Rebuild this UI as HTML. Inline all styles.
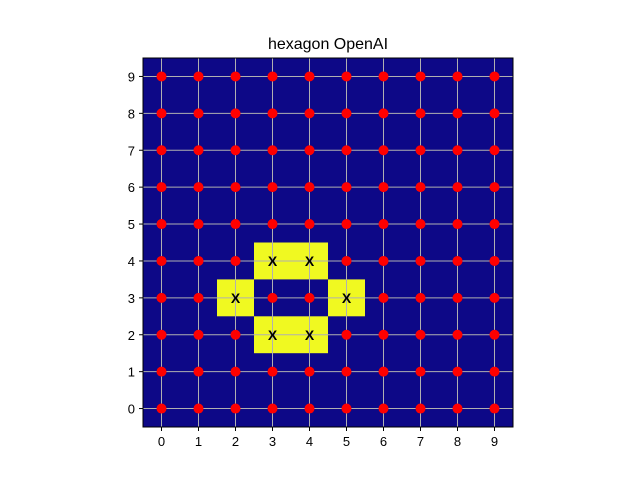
<!DOCTYPE html>
<html><head><meta charset="utf-8"><style>body{margin:0;background:#fff}svg{display:block}</style></head>
<body>
<svg id="chart" width="640" height="480" xmlns="http://www.w3.org/2000/svg" font-family="Liberation Sans, DejaVu Sans, sans-serif">
<text x="328" y="49" text-anchor="middle" font-size="16">hexagon OpenAI</text>
<g id="plot"></g>
</svg>
<script>
const nCols = 10;
const nRows = 10;
const hexX = [3, 4, 2, 5, 3, 4];
const hexY = [4, 4, 3, 3, 2, 2];
const tickLabels = ['0','1','2','3','4','5','6','7','8','9'];
const L=143,R=513,T=58,B=427;
const sx=v=>L+(v+0.5)*(R-L)/nCols;
const sy=v=>B-(v+0.5)*(B-T)/nRows;
const cw=(R-L)/nCols, ch=(B-T)/nRows;
const NS='http://www.w3.org/2000/svg';
const g=document.getElementById('plot');
function mk(t,a){const e=document.createElementNS(NS,t);for(const k in a)e.setAttribute(k,a[k]);g.appendChild(e);return e;}
let e=mk('rect',{x:L,y:T,width:R-L,height:B-T,fill:'#0d0887'});


const isHex=(x,y)=>hexX.some((hx,i)=>hx===x&&hexY[i]===y);
hexX.forEach((hx,i)=>{
 const c=mk('rect',{x:sx(hx)-cw/2,y:sy(hexY[i])-ch/2,width:cw,height:ch,fill:'#f0f921'});
 
 
});
for(let i=0;i<nCols;i++){
 const l=mk('line',{x1:sx(i),x2:sx(i),y1:T,y2:B,stroke:'#b0b0b0','stroke-width':1});
 
 
 const tk=mk('line',{x1:sx(i),x2:sx(i),y1:B,y2:B+4,stroke:'#000'});
 
 
 const t=mk('text',{x:sx(i),y:B+19,'text-anchor':'middle','font-size':13});
 t.textContent=tickLabels[i];
 
 
}
for(let j=0;j<nRows;j++){
 const l=mk('line',{x1:L,x2:R,y1:sy(j),y2:sy(j),stroke:'#b0b0b0','stroke-width':1});
 
 
 const tk=mk('line',{x1:L-4,x2:L,y1:sy(j),y2:sy(j),stroke:'#000'});
 
 
 const t=mk('text',{x:L-8,y:sy(j)+5,'text-anchor':'end','font-size':13});
 t.textContent=tickLabels[j];
 
 
}
for(let i=0;i<nCols;i++)for(let j=0;j<nRows;j++){
 if(isHex(i,j)){
  const t=mk('text',{x:sx(i),y:sy(j)+5,'text-anchor':'middle','font-size':14,'font-weight':'bold'});
  t.textContent='X';
  
  
 } else {
  const c=mk('circle',{cx:sx(i),cy:sy(j),r:5,fill:'#ff0000'});
  
  
 }
}
e=mk('rect',{x:L,y:T,width:R-L,height:B-T,fill:'none',stroke:'#000','stroke-width':1});


</script>
</body></html>
